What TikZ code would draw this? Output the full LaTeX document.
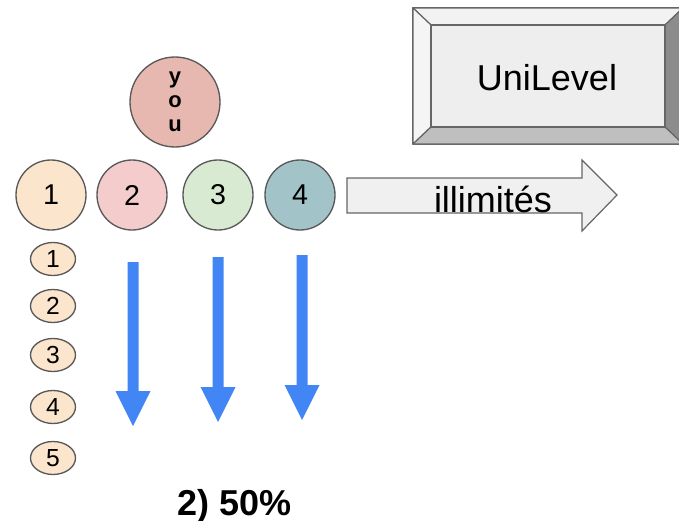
\documentclass[tikz,border=0pt]{standalone}
\usepackage{fontspec}
\setmainfont{Liberation Sans}
\usetikzlibrary{shapes.geometric,calc}
\definecolor{peach}{RGB}{252,229,205}
\definecolor{rose}{RGB}{244,204,204}
\definecolor{mint}{RGB}{217,234,211}
\definecolor{teal}{RGB}{162,196,201}
\definecolor{youred}{RGB}{230,184,175}
\definecolor{edge}{RGB}{89,89,89}
\definecolor{blu}{RGB}{66,133,244}
\definecolor{keyface}{RGB}{238,238,238}
\tikzset{
  member/.style={circle, draw=edge, line width=1pt, minimum size=52.5pt, inner sep=0pt, font=\fontsize{21.5}{24}\selectfont},
  level/.style={ellipse, draw=edge, line width=1pt, fill=peach, minimum width=33.75pt, minimum height=24.75pt, inner sep=0pt, font=\fontsize{18.5}{20}\selectfont},
  bevel/.style={draw=black!60, line width=0.9pt, line join=round},
  bigtext/.style={inner sep=0pt, font=\fontsize{27}{30}\selectfont}
}

\begin{document}
\begin{tikzpicture}[x=0.75pt,y=0.75pt,yscale=-1,xscale=1]
	\clip (0,0) rectangle (679,521);

	% unilevel key
	\draw [bevel, fill=keyface] (413,8) rectangle (683,144) ;
	\draw [bevel, fill=black!5]  (413,8) -- (683,8) -- (665,25) -- (431,25) -- cycle ;
	\draw [bevel, fill=black!4]  (413,8) -- (431,25) -- (431,127) -- (413,144) -- cycle ;
	\draw [bevel, fill=black!45] (683,8) -- (683,144) -- (665,127) -- (665,25) -- cycle ;
	\draw [bevel, fill=black!25] (413,144) -- (683,144) -- (665,127) -- (431,127) -- cycle ;
	\draw [bevel, fill=keyface] (431,25) rectangle (665,127) ;
	\node [bigtext] (uni) at (547,78) {UniLevel};

	% you and the first line
	\node [member, fill=youred, minimum size=67.5pt, align=center, font=\fontsize{16.5}{18}\bfseries] (you) at (175,102) {y\\o\\u};
	\node [member, fill=peach] (m1) at (51,195) {1};
	\node [member, fill=rose]  (m2) at (132,195) {2};
	\node [member, fill=mint]  (m3) at (218,195) {3};
	\node [member, fill=teal]  (m4) at (300,195) {4};

	% unlimited arrow
	\draw [draw=black!60, line width=0.9pt, fill=black!6] (347,178) -- (582,178) -- (582,160) -- (617,195) -- (582,231) -- (582,213) -- (347,213) -- cycle ;
	\node [bigtext, anchor=base] (ill) at (493,212) {illimités};

	% levels
	\foreach \i/\y in {1/259,2/306,3/355,4/407,5/458}
		\node [level] (l\i) at (53,\y) {\i};

	% blue arrows
	\foreach \x/\t/\b in {133/262/391, 218/257/387, 302/255/385}
		\fill [blu] (\x-5.5,\t) -- (\x+5.5,\t) -- (\x+5.5,\b) -- (\x+17.5,\b) -- (\x,\b+35) -- (\x-17.5,\b) -- (\x-5.5,\b) -- cycle ;

	\node [bigtext, anchor=base, font=\fontsize{27}{30}\bfseries] (pct) at (235,515) {2) 50\%};
\end{tikzpicture}
\end{document}
